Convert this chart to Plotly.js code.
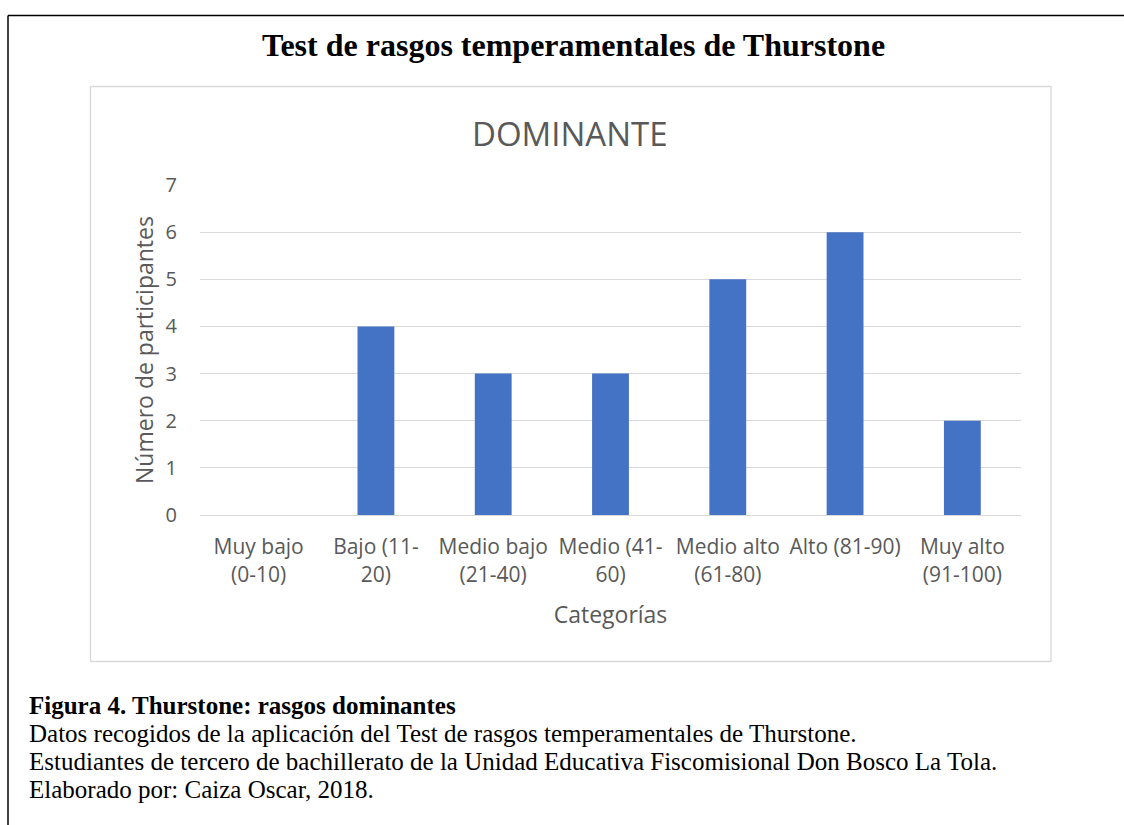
<!DOCTYPE html>
<html><head><meta charset="utf-8">
<script src="https://cdn.plot.ly/plotly-3.0.1.min.js"></script>
<style>html,body{margin:0;padding:0;background:#fff;}#chart{width:1124px;height:825px;}</style>
</head><body><div id="chart"></div>
<script>
const categories = ["Muy bajo<br>(0-10)", "Bajo (11-<br>20)", "Medio bajo<br>(21-40)", "Medio (41-<br>60)", "Medio alto<br>(61-80)", "Alto (81-90)", "Muy alto<br>(91-100)"];
const values = [0, 4, 3, 3, 5, 6, 2];
const yTicks = [0, 1, 2, 3, 4, 5, 6, 7];
const captionLines = [
  "Figura 4. Thurstone: rasgos dominantes",
  "Datos recogidos de la aplicación del Test de rasgos temperamentales de Thurstone.",
  "Estudiantes de tercero de bachillerato de la Unidad Educativa Fiscomisional Don Bosco La Tola.",
  "Elaborado por: Caiza Oscar, 2018."
];

const W = 1124, H = 825;
const px = x => x / W;
const py = y => 1 - y / H;
const gray = '#595959';
const sansFont = 'Open Sans, Noto Sans, sans-serif';
const serif = 'Liberation Serif, Times New Roman, serif';

const captionText = captionLines.map((t, i) =>
  i === 0 ? '<span style="font-size:25px"><b>' + t + '</b></span>'
          : '<span style="font-size:25px">' + t + '</span>').join('<br>');

const trace = {
  type: 'bar', x: categories, y: values,
  marker: {color: '#4472C4'}, hoverinfo: 'x+y'
};

const layout = {
  width: W, height: H,
  margin: {l: 0, r: 0, t: 0, b: 0},
  paper_bgcolor: '#fff', plot_bgcolor: '#fff',
  showlegend: false,
  bargap: 0.686,
  xaxis: {
    domain: [px(200), px(1021)],
    tickfont: {family: sansFont, size: 21, color: gray},
    showline: true, linecolor: '#d9d9d9', linewidth: 1,
    ticks: 'outside', ticklen: 13, tickcolor: 'rgba(0,0,0,0)',
    automargin: false, fixedrange: true,
    title: {text: 'Categorías', font: {family: sansFont, size: 23, color: gray}, standoff: 20}
  },
  yaxis: {
    domain: [py(515), py(185)],
    range: [0, 7], tickvals: yTicks,
    tickfont: {family: sansFont, size: 20, color: gray},
    gridcolor: '#d9d9d9', gridwidth: 1,
    zeroline: false, showline: false,
    ticks: 'outside', ticklen: 18, tickcolor: 'rgba(0,0,0,0)',
    automargin: false, fixedrange: true,
    title: {text: 'Número de participantes', font: {family: sansFont, size: 23, color: gray}, standoff: 5}
  },
  shapes: [
    {type: 'line', xref: 'paper', yref: 'paper', x0: px(8), x1: px(1124), y0: py(15.5), y1: py(15.5), line: {color: '#000', width: 1.5}},
    {type: 'line', xref: 'paper', yref: 'paper', x0: px(8), x1: px(8), y0: py(15.5), y1: py(825), line: {color: '#000', width: 1.5}},
    {type: 'rect', xref: 'paper', yref: 'paper', x0: px(90.5), x1: px(1051), y0: py(86.5), y1: py(661.5), line: {color: '#d9d9d9', width: 1.3}, fillcolor: 'rgba(0,0,0,0)'}
  ],
  annotations: [
    {xref: 'paper', yref: 'paper', x: px(573), y: py(45), text: '<b>Test de rasgos temperamentales de Thurstone</b>', showarrow: false, xanchor: 'center', yanchor: 'middle', font: {family: serif, size: 32, color: '#000'}},
    {xref: 'paper', yref: 'paper', x: px(570), y: py(133), text: 'DOMINANTE', showarrow: false, xanchor: 'center', yanchor: 'middle', font: {family: sansFont, size: 33, color: gray}},
    {xref: 'paper', yref: 'paper', x: px(27), y: py(747), text: captionText, showarrow: false, xanchor: 'left', yanchor: 'middle', align: 'left', font: {family: serif, size: 21.6, color: '#000'}}
  ]
};

Plotly.newPlot('chart', [trace], layout, {displayModeBar: false, staticPlot: true});
</script>
</body></html>
